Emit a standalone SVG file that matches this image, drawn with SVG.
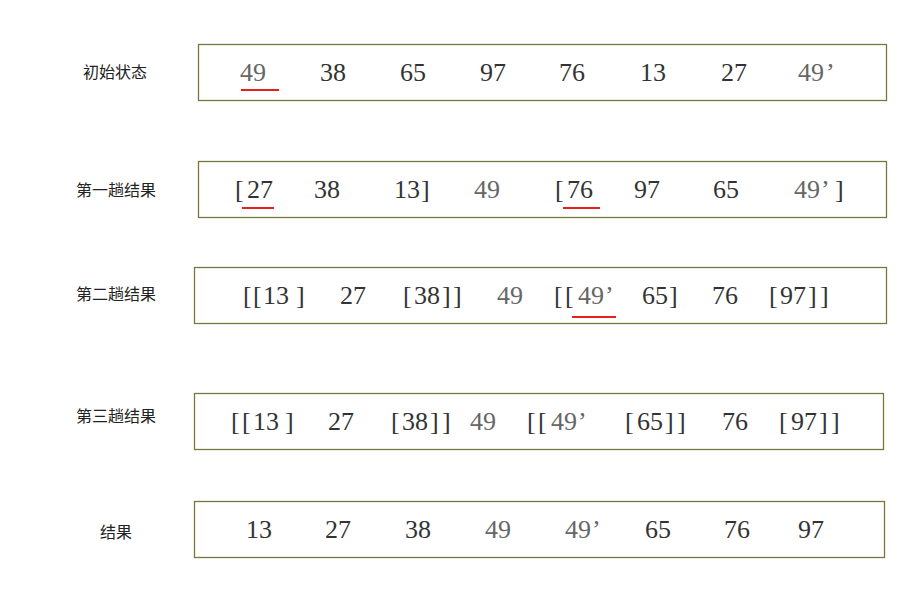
<svg xmlns="http://www.w3.org/2000/svg" width="924" height="603" viewBox="0 0 924 603">
<style>
.box{fill:#fff;stroke:#77773f;stroke-width:1.3}
.lbl{font-family:"Noto Sans CJK SC","Noto Sans",sans-serif;font-size:16px;fill:#222;text-anchor:middle}
.n{font-family:"Liberation Serif","Times New Roman",serif;font-size:26px;fill:#333}
.g{fill:#666}
.ul{stroke:#e8201c;stroke-width:2}
</style>
<rect width="924" height="603" fill="#fff"/>
<g id="row1">
<rect class="box" x="198.5" y="44.5" width="688" height="56"/>
<text class="lbl" x="115" y="78">初始状态</text>
<text class="n" y="81"><tspan class="g" x="240">49</tspan><tspan x="320">38</tspan><tspan x="400">65</tspan><tspan x="480">97</tspan><tspan x="559">76</tspan><tspan x="640">13</tspan><tspan x="721">27</tspan><tspan class="g" x="798">49</tspan><tspan class="g" x="826">’</tspan></text>
<line class="ul" x1="241" y1="90" x2="279" y2="90"/>
</g>
<g id="row2">
<rect class="box" x="198.5" y="161.5" width="688" height="56"/>
<text class="lbl" x="116" y="196">第一趟结果</text>
<text class="n" y="198"><tspan x="235">[</tspan><tspan x="247">27</tspan><tspan x="314">38</tspan><tspan x="394">13</tspan><tspan x="421">]</tspan><tspan class="g" x="474">49</tspan><tspan x="555">[</tspan><tspan x="567">76</tspan><tspan x="634">97</tspan><tspan x="713">65</tspan><tspan class="g" x="794">49</tspan><tspan class="g" x="821">’</tspan><tspan x="835">]</tspan></text>
<line class="ul" x1="242" y1="208" x2="274" y2="208"/>
<line class="ul" x1="563" y1="208" x2="600" y2="208"/>
</g>
<g id="row3">
<rect class="box" x="194.5" y="267.5" width="692" height="56"/>
<text class="lbl" x="116" y="300">第二趟结果</text>
<text class="n" y="304"><tspan x="243">[</tspan><tspan x="253">[</tspan><tspan x="263">13</tspan><tspan x="296">]</tspan><tspan x="340">27</tspan><tspan x="403">[</tspan><tspan x="414">38</tspan><tspan x="442">]</tspan><tspan x="453">]</tspan><tspan class="g" x="497">49</tspan><tspan x="554">[</tspan><tspan x="565">[</tspan><tspan class="g" x="578">49</tspan><tspan class="g" x="605">’</tspan><tspan x="642">65</tspan><tspan x="669">]</tspan><tspan x="712">76</tspan><tspan x="769">[</tspan><tspan x="780">97</tspan><tspan x="808">]</tspan><tspan x="820">]</tspan></text>
<line class="ul" x1="572" y1="317" x2="616" y2="317"/>
</g>
<g id="row4">
<rect class="box" x="194.5" y="393.5" width="689" height="56"/>
<text class="lbl" x="116" y="422">第三趟结果</text>
<text class="n" y="430"><tspan x="231">[</tspan><tspan x="242">[</tspan><tspan x="253">13</tspan><tspan x="285">]</tspan><tspan x="328">27</tspan><tspan x="391">[</tspan><tspan x="402">38</tspan><tspan x="430">]</tspan><tspan x="442">]</tspan><tspan class="g" x="470">49</tspan><tspan x="527">[</tspan><tspan x="538">[</tspan><tspan class="g" x="551">49</tspan><tspan class="g" x="578">’</tspan><tspan x="625">[</tspan><tspan x="637">65</tspan><tspan x="665">]</tspan><tspan x="677">]</tspan><tspan x="722">76</tspan><tspan x="779">[</tspan><tspan x="791">97</tspan><tspan x="819">]</tspan><tspan x="831">]</tspan></text>
</g>
<g id="row5">
<rect class="box" x="194.5" y="501.5" width="690" height="56"/>
<text class="lbl" x="116" y="538">结果</text>
<text class="n" y="538"><tspan x="246">13</tspan><tspan x="325">27</tspan><tspan x="405">38</tspan><tspan class="g" x="485">49</tspan><tspan class="g" x="565">49</tspan><tspan class="g" x="592">’</tspan><tspan x="645">65</tspan><tspan x="724">76</tspan><tspan x="798">97</tspan></text>
</g>
</svg>
